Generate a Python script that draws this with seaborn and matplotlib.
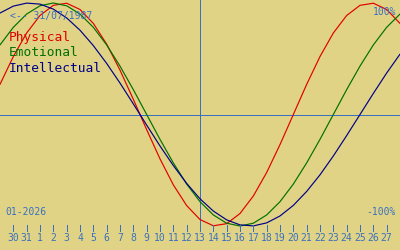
import matplotlib
matplotlib.use("Agg")
import matplotlib.pyplot as plt
import seaborn as sns
import pandas as pd

# Day labels for each sampled day (index -1 .. 29)
days = [29, 30, 31] + list(range(1, 29))
x_index = list(range(-1, 30))

physical = [0.270, 0.520, 0.731, 0.888, 0.979, 0.998, 0.942, 0.817, 0.631, 0.398,
            0.136, -0.136, -0.398, -0.631, -0.817, -0.942, -0.998, -0.979, -0.888,
            -0.731, -0.520, -0.270, 0.000, 0.270, 0.520, 0.731, 0.888, 0.979, 0.998,
            0.942, 0.817]
emotional = [0.624, 0.782, 0.901, 0.975, 1.000, 0.975, 0.901, 0.782, 0.624, 0.434,
             0.223, 0.000, -0.223, -0.434, -0.624, -0.782, -0.901, -0.975, -1.000,
             -0.975, -0.901, -0.782, -0.624, -0.434, -0.223, 0.000, 0.223, 0.434,
             0.624, 0.782, 0.901]
intellectual = [0.910, 0.972, 0.999, 0.990, 0.945, 0.866, 0.756, 0.618, 0.458, 0.282,
                0.095, -0.095, -0.282, -0.458, -0.618, -0.756, -0.866, -0.945, -0.990,
                -0.999, -0.972, -0.910, -0.815, -0.690, -0.541, -0.372, -0.189, 0.000,
                0.189, 0.372, 0.541]

series_names = ["Physical", "Emotional", "Intellectual"]
series_colors = ["#E00000", "#007000", "#000088"]
today_day = 13
birth_label = "<-- 31/07/1987"
month_label = "01-2026"
top_label = "100%"
bottom_label = "-100%"

BG = "#E0D386"
BLUE = "#3A70C0"
MONO = "DejaVu Sans Mono"

df = pd.DataFrame({
    "x": x_index * 3,
    "value": physical + emotional + intellectual,
    "series": [s for s in series_names for _ in x_index],
})

sns.set_style("white")
plt.rcParams["font.family"] = [MONO, "DejaVu Sans"]

fig = plt.figure(figsize=(4, 2.5), dpi=100, facecolor=BG)
ax = fig.add_axes([0, 18 / 250, 1, 232 / 250])
ax.set_facecolor(BG)

sns.lineplot(data=df, x="x", y="value", hue="series", palette=series_colors,
             hue_order=series_names, legend=False, linewidth=0.85, ax=ax)

ax.set_xlim(-1, 29)
ax.set_ylim((114.5 - 232) / 111.5, 114.5 / 111.5)

# Today vertical line and zero line
today_idx = x_index[days.index(today_day, 3)]
ax.axvline(today_idx, color=BLUE, linewidth=0.72, zorder=0, antialiased=False)
ax.axhline(0, color=BLUE, linewidth=0.72, zorder=0, antialiased=False)

for s in ax.spines.values():
    s.set_visible(False)

tick_pos = x_index[1:-1]
tick_lab = [str(d) for d in days[1:-1]]
ax.set_xticks(tick_pos)
ax.set_xticklabels(tick_lab)
ax.set_yticks([])
ax.set_xlabel("")
ax.set_ylabel("")
ax.tick_params(axis="x", length=0, colors=BLUE, labelsize=7, pad=1)
for lab in ax.get_xticklabels():
    lab.set_family(MONO)
# small tick marks just above the labels
ax.vlines(tick_pos, 1 / 232, 7 / 232, transform=ax.get_xaxis_transform(),
          colors=BLUE, linewidth=0.72, antialiased=False)

# Texts
ax.text(10 / 400, 1 - 16 / 232, birth_label, transform=ax.transAxes, color=BLUE,
        fontsize=7, family=MONO, va="center", ha="left")
ax.text(396 / 400, 1 - 12 / 232, top_label, transform=ax.transAxes, color=BLUE,
        fontsize=7, family=MONO, va="center", ha="right")
ax.text(5 / 400, 1 - 212 / 232, month_label, transform=ax.transAxes, color=BLUE,
        fontsize=7, family=MONO, va="center", ha="left")
ax.text(396 / 400, 1 - 212 / 232, bottom_label, transform=ax.transAxes, color=BLUE,
        fontsize=7, family=MONO, va="center", ha="right")
for i, (name, col) in enumerate(zip(series_names, series_colors)):
    ax.text(9 / 400, 1 - (38 + 15 * i) / 232, name, transform=ax.transAxes,
            color=col, fontsize=9.3, family=MONO, va="center", ha="left")

fig.savefig("out.png", dpi=100, facecolor=BG)
